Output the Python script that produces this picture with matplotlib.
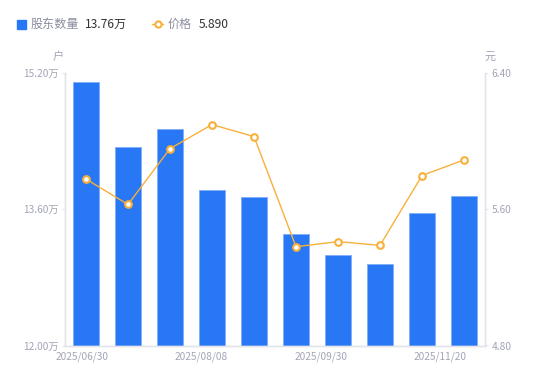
import numpy as np
import matplotlib
matplotlib.use('Agg')
import matplotlib.pyplot as plt
from matplotlib.patches import Rectangle
from matplotlib.lines import Line2D

plt.rcParams['font.family'] = ['Noto Sans CJK SC', 'DejaVu Sans']

# data
dates = ['2025/06/30', '2025/07/10', '2025/07/20', '2025/08/08', '2025/08/20',
         '2025/09/10', '2025/09/30', '2025/10/20', '2025/11/10', '2025/11/20']
shares = [15.09, 14.33, 14.54, 13.83, 13.74, 13.31, 13.06, 12.96, 13.56, 13.76]  # 万户
price = [5.777, 5.628, 5.956, 6.097, 6.027, 5.380, 5.410, 5.388, 5.798, 5.890]
xlabels = ['2025/06/30', '2025/08/08', '2025/09/30', '2025/11/20']
left_ticks = [12.00, 13.60, 15.20]
right_ticks = [4.80, 5.60, 6.40]

BLUE = '#2877F4'
ORANGE = '#F8B03A'
GRAY = '#A2A4B6'
LINE = '#E4E5EA'

fig = plt.figure(figsize=(5.5, 3.81), dpi=100)
ax = fig.add_axes([65 / 550, 35.5 / 381, 420 / 550, 272.5 / 381])
ax2 = ax.twinx()

x = np.arange(len(shares))
ax.bar(x, shares, width=0.6, color=BLUE, edgecolor='#7FADF7', linewidth=0.6, zorder=2)
ax.set_xlim(-0.5, len(shares) - 0.5)
ax.set_ylim(left_ticks[0], left_ticks[-1])
ax.set_yticks(left_ticks)
ax.set_yticklabels([f'{v:.2f}万' for v in left_ticks])

ax2.plot(x, price, color=ORANGE, lw=1.0, marker='o', ms=4.8, mfc='white',
         mec=ORANGE, mew=1.5, zorder=3)
ax2.set_ylim(right_ticks[0], right_ticks[-1])
ax2.set_yticks(right_ticks)
ax2.set_yticklabels([f'{v:.2f}' for v in right_ticks])

# x labels spread across the axis like the source
ax.set_xticks(np.linspace(-0.095, 8.43, len(xlabels)))
ax.set_xticklabels(xlabels)

for a in (ax, ax2):
    for s in a.spines.values():
        s.set_color(LINE)
        s.set_linewidth(1)
    a.spines['top'].set_visible(False)
    a.tick_params(colors=GRAY, labelsize=7.3, length=2.5, width=0.8, color=LINE, pad=2)
ax.tick_params(axis='x', length=0, pad=4)

fig.text(58 / 550, 1 - 57 / 381, '户', color=GRAY, fontsize=8, ha='center', va='center')
fig.text(490 / 550, 1 - 57 / 381, '元', color=GRAY, fontsize=8, ha='center', va='center')

# legend
ly = 1 - 24 / 381
fig.patches.append(Rectangle((17 / 550, ly - 4.5 / 381), 9 / 550, 9 / 381,
                             transform=fig.transFigure, color=BLUE, figure=fig))
fig.text(31 / 550, ly, '股东数量', color='#8A8D9F', fontsize=8.7, va='center')
fig.text(85 / 550, ly, f'{shares[-1]:.2f}万', color='#333333', fontsize=8.7, va='center')
fig.lines.append(Line2D([152 / 550, 163 / 550], [ly, ly], transform=fig.transFigure,
                        color=ORANGE, lw=1.0, figure=fig))
fig.lines.append(Line2D([157.5 / 550], [ly], transform=fig.transFigure, marker='o',
                        ms=4.5, mfc='white', mec=ORANGE, mew=1.5, figure=fig))
fig.text(168 / 550, ly, '价格', color='#8A8D9F', fontsize=8.7, va='center')
fig.text(199 / 550, ly, f'{price[-1]:.3f}', color='#333333', fontsize=8.7, va='center')

fig.savefig('out.png', dpi=100)
